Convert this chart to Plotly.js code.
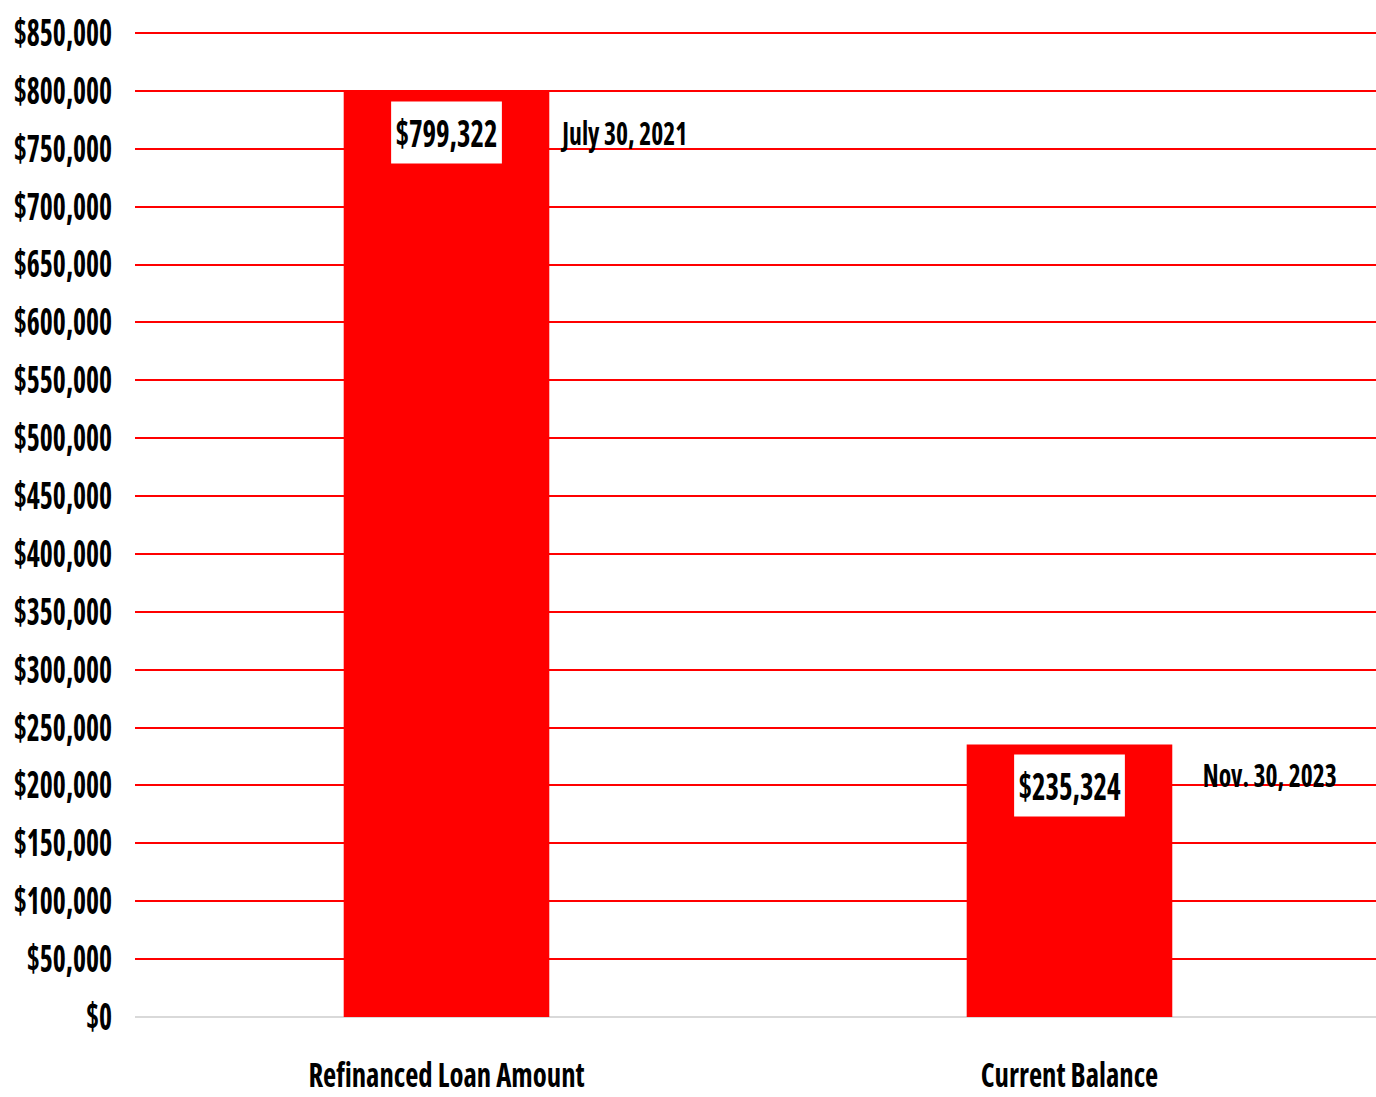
<!DOCTYPE html>
<html>
<head>
<meta charset="utf-8">
<script src="https://cdn.plot.ly/plotly-3.0.1.min.js"></script>
<style>
html,body{margin:0;padding:0;background:#fff;}
#chart{width:1376px;height:1097px;}
svg text{font-stretch:75%;}
</style>
</head>
<body>
<div id="chart"></div>
<script>
const categories = ["Refinanced Loan Amount", "Current Balance"];
const amounts = [799322, 235324];
const valueLabels = ["$799,322", "$235,324"];
const dateLabels = ["July 30, 2021", "Nov. 30, 2023"];

// label placement (style, not data)
const dateShiftX = [112, 132];
const dateShiftY = [-41, -30];
const SQ_YTICK = 0.75, SQ_XTICK = 0.87, SQ_VALUE = 0.78, SQ_DATE = 0.80;

const FONT = "'Open Sans', Carlito, sans-serif";

const annotations = [];
categories.forEach((c, i) => {
  annotations.push({
    x: i, y: amounts[i], xref: 'x', yref: 'y',
    text: valueLabels[i], showarrow: false,
    yanchor: 'top', yshift: -9,
    bgcolor: '#ffffff', borderpad: 5,
    font: {family: FONT, size: 37, color: '#000', weight: 'bold'}
  });
  annotations.push({
    x: i, y: amounts[i], xref: 'x', yref: 'y',
    text: dateLabels[i], showarrow: false,
    xanchor: 'left', xshift: dateShiftX[i], yanchor: 'middle', yshift: dateShiftY[i],
    font: {family: FONT, size: 32, color: '#000', weight: 'bold'}
  });
});

const trace = {
  type: 'bar', x: [0, 1], y: amounts,
  marker: {color: '#ff0000'}, width: 0.33,
  hoverinfo: 'none'
};

const layout = {
  width: 1376, height: 1097,
  margin: {l: 135, r: 0, t: 31, b: 80},
  paper_bgcolor: '#fff', plot_bgcolor: '#fff',
  showlegend: false,
  font: {family: FONT, color: '#000'},
  xaxis: {
    range: [-0.5, 1.492], tickvals: [0, 1], ticktext: categories,
    showgrid: false, zeroline: false, showline: false, ticks: '',
    tickfont: {family: FONT, size: 33, color: '#000', weight: 'bold'},
    ticklabelstandoff: 36
  },
  yaxis: {
    range: [0, 851728], tickmode: 'linear', tick0: 0, dtick: 50000,
    tickprefix: '$', showtickprefix: 'all', tickformat: ',d',
    showgrid: true, gridcolor: '#ff0000', gridwidth: 2,
    zeroline: true, zerolinecolor: '#d9d9d9', zerolinewidth: 2,
    showline: false, ticks: '',
    tickfont: {family: FONT, size: 37, color: '#000', weight: 'bold'},
    ticklabelstandoff: 22
  },
  annotations: annotations
};

function squeeze(el, sx, anchor) {
  const g = document.createElementNS('http://www.w3.org/2000/svg', 'g');
  el.parentNode.insertBefore(g, el);
  g.appendChild(el);
  const b = g.getBBox();
  const ax = anchor === 'end' ? b.x + b.width : anchor === 'start' ? b.x : b.x + b.width / 2;
  const ay = b.y + b.height / 2;
  g.setAttribute('transform', `translate(${ax},${ay}) scale(${sx},1) translate(${-ax},${-ay})`);
}

Plotly.newPlot('chart', [trace], layout, {staticPlot: true, displayModeBar: false}).then(gd => {
  gd.querySelectorAll('.ytick text').forEach(t => squeeze(t, SQ_YTICK, 'end'));
  gd.querySelectorAll('.xtick text').forEach(t => squeeze(t, SQ_XTICK, 'middle'));
  gd.querySelectorAll('g.annotation').forEach(a => {
    const idx = +a.getAttribute('data-index');
    if (idx % 2 === 0) squeeze(a, SQ_VALUE, 'middle');
    else squeeze(a, SQ_DATE, 'start');
  });
});
</script>
</body>
</html>
